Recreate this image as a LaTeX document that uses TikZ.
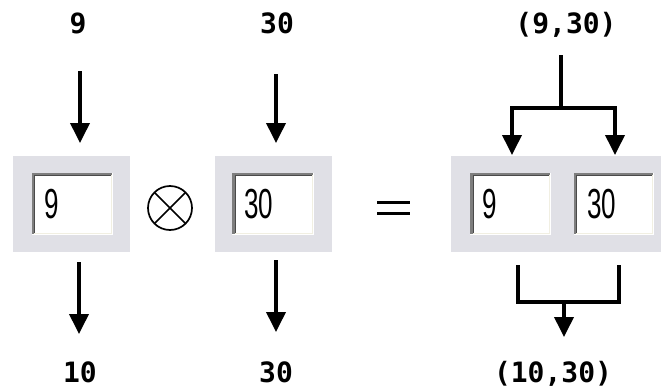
\documentclass[tikz,border=0pt]{standalone}
\usepackage{fontspec}
\usepackage{graphicx}
\setmonofont{DejaVu Sans Mono}
\newfontfamily\boxfont{Liberation Sans}
\usetikzlibrary{arrows.meta}
\definecolor{panel}{HTML}{E0E0E6}
\definecolor{sunkdark}{HTML}{7E7E7E}
\definecolor{sunkdeep}{HTML}{4A4A4A}
\definecolor{sunklight}{HTML}{F1EFE2}
\tikzset{
  lbl/.style={font=\fontsize{28}{30}\selectfont\ttfamily\bfseries, inner sep=0pt, anchor=base},
  flow/.style={line width=3.8pt, -{Triangle[width=19pt,length=20pt]}},
  wire/.style={line width=3.8pt},
  panelbox/.style={fill=panel, draw=none, inner sep=0pt, minimum width=117pt, minimum height=96pt},
  field/.style={fill=white, inner sep=0pt, minimum width=81pt, minimum height=62pt},
  fieldtext/.style={font=\fontsize{42}{42}\selectfont\boxfont, inner sep=0pt, anchor=west},
}
\newcommand\sunkenfield[1]{%
  \draw[white, line width=1pt] ([yshift=0.5pt]#1.south west) -- ([xshift=-0.5pt,yshift=0.5pt]#1.south east) -- ([xshift=-0.5pt]#1.north east);
  \draw[sunklight, line width=1pt] ([xshift=1pt,yshift=1.5pt]#1.south west) -- ([xshift=-1.5pt,yshift=1.5pt]#1.south east) -- ([xshift=-1.5pt,yshift=-1pt]#1.north east);
  \draw[sunkdark, line width=2.5pt] ([xshift=1.25pt,yshift=1pt]#1.south west) -- ([xshift=1.25pt,yshift=-1.25pt]#1.north west) -- ([xshift=-1pt,yshift=-1.25pt]#1.north east);
  \draw[sunkdeep, line width=1pt] ([xshift=3pt,yshift=2pt]#1.south west) -- ([xshift=3pt,yshift=-3pt]#1.north west) -- ([xshift=-2pt,yshift=-3pt]#1.north east);
}
\begin{document}
\begin{tikzpicture}[x=1pt,y=-1pt]
\useasboundingbox (0,0) rectangle (667,388);

% panels
\node[panelbox] (pA) at (71,204) {};
\node[panelbox] (pB) at (273.5,204) {};
\node[panelbox, minimum width=210pt] (pC) at (556,204) {};

% fields
\node[field] (fA) at (72.5,204) {};
\node[field] (fB) at (273,204) {};
\node[field, minimum width=80pt] (fC1) at (510.5,204) {};
\node[field, minimum width=80pt] (fC2) at (614,204) {};
\sunkenfield{fA}
\sunkenfield{fB}
\sunkenfield{fC1}
\sunkenfield{fC2}
\node[fieldtext] (tA) at ([xshift=12pt]fA.west) {\scalebox{0.62}[1]{9}};
\node[fieldtext] (tB) at ([xshift=12pt]fB.west) {\scalebox{0.62}[1]{30}};
\node[fieldtext] (tC1) at ([xshift=12pt]fC1.west) {\scalebox{0.62}[1]{9}};
\node[fieldtext] (tC2) at ([xshift=13pt]fC2.west) {\scalebox{0.62}[1]{30}};

% operator symbols
\node[circle, draw, line width=1.7pt, minimum size=44pt, inner sep=0pt, outer sep=0pt] (ot) at (170,208) {};
\draw[line width=1.7pt] (ot.north west) -- (ot.south east);
\draw[line width=1.7pt] (ot.north east) -- (ot.south west);
\coordinate (eqL1) at (377,202.5);
\coordinate (eqR1) at (410,202.5);
\coordinate (eqL2) at (377,213.5);
\coordinate (eqR2) at (410,213.5);
\draw[line width=2.5pt] (eqL1) -- (eqR1);
\draw[line width=2.5pt] (eqL2) -- (eqR2);

% labels
\node[lbl] (inA) at (78,33) {9};
\node[lbl] (inB) at (277,33) {30};
\node[lbl] (inC) at (566,33) {(9,30)};
\node[lbl] (outA) at (80,382) {10};
\node[lbl] (outB) at (276,382) {30};
\node[lbl] (outC) at (553,382) {(10,30)};

% top arrows
\coordinate (aAs) at (80,71);
\coordinate (aAe) at (80,143);
\coordinate (aBs) at (276,74);
\coordinate (aBe) at (276,143);
\draw[flow] (aAs) -- (aAe);
\draw[flow] (aBs) -- (aBe);

% bottom arrows
\coordinate (bAs) at (79,262);
\coordinate (bAe) at (79,334);
\coordinate (bBs) at (276,260);
\coordinate (bBe) at (276,332);
\draw[flow] (bAs) -- (bAe);
\draw[flow] (bBs) -- (bBe);

% right top split
\coordinate (sTop) at (561,55);
\coordinate (sMid) at (561,108);
\coordinate (sL) at (512,108);
\coordinate (sR) at (615,108);
\coordinate (sLe) at (512,155);
\coordinate (sRe) at (615,155);
\draw[wire] (sTop) -- (sMid);
\draw[wire] ([xshift=-1.9pt]sL) -- ([xshift=1.9pt]sR);
\draw[flow] (sL) -- (sLe);
\draw[flow] (sR) -- (sRe);

% right bottom merge
\coordinate (mLt) at (518,265);
\coordinate (mLb) at (518,302);
\coordinate (mRb) at (619,302);
\coordinate (mRt) at (619,265);
\coordinate (mM) at (564,302);
\coordinate (mE) at (564,337);
\draw[wire, line join=miter] (mLt) -- (mLb) -- (mRb) -- (mRt);
\draw[flow] (mM) -- (mE);
\end{tikzpicture}
\end{document}
